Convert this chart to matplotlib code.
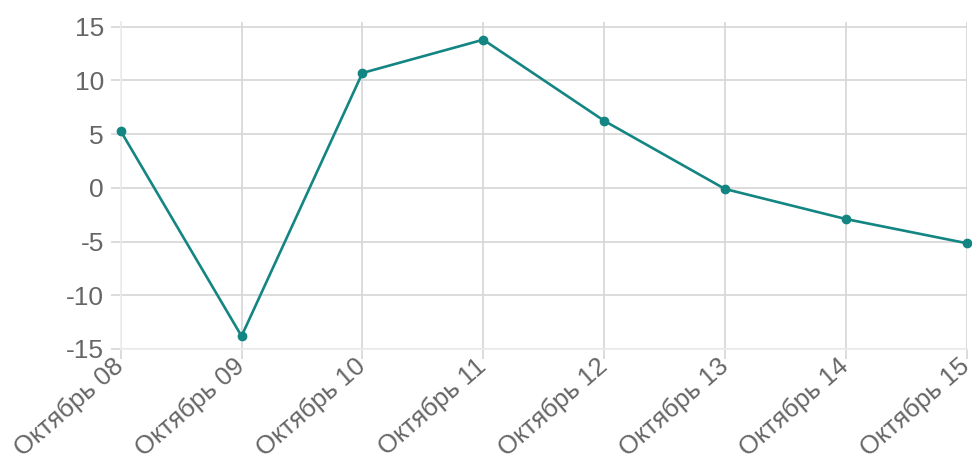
import matplotlib.pyplot as plt

labels = ["Октябрь 08", "Октябрь 09", "Октябрь 10", "Октябрь 11",
          "Октябрь 12", "Октябрь 13", "Октябрь 14", "Октябрь 15"]
values = [5.3, -13.8, 10.7, 13.8, 6.25, -0.1, -2.9, -5.15]
yticks = [-15, -10, -5, 0, 5, 10, 15]

plt.rcParams['font.family'] = ['Liberation Sans', 'DejaVu Sans']

fig = plt.figure(figsize=(9.72, 4.61), dpi=100)
W, H = 972, 461
left, right, top, bottom = 120.7, 966.7, 22.5, 349
ax = fig.add_axes([left / W, 1 - bottom / H, (right - left) / W, (bottom - top) / H])

x = list(range(len(labels)))
ax.plot(x, values, color='#138582', lw=1.9, marker='o', ms=6, clip_on=False, zorder=3)

ax.set_xlim(0, len(labels) - 1)
ax.set_ylim(-15, 15.4)
ax.set_yticks(yticks)
ax.set_yticklabels([str(v) for v in yticks])
ax.set_xticks(x)
ax.set_xticklabels(labels, rotation=41, ha='right', va='center', rotation_mode='anchor')

ax.grid(True, color='#d6d6d6', lw=1.2)
for s in ['top', 'right']:
    ax.spines[s].set_visible(False)
for s in ['left', 'bottom']:
    ax.spines[s].set_color('#ececec')
    ax.spines[s].set_linewidth(1.2)
ax.tick_params(axis='both', colors='#d6d6d6', labelcolor='#666666',
               labelsize=19, length=7, width=1.2)
ax.tick_params(axis='y', pad=5)
ax.tick_params(axis='x', pad=3, labelsize=18.5)

fig.savefig('out.png', dpi=100)
